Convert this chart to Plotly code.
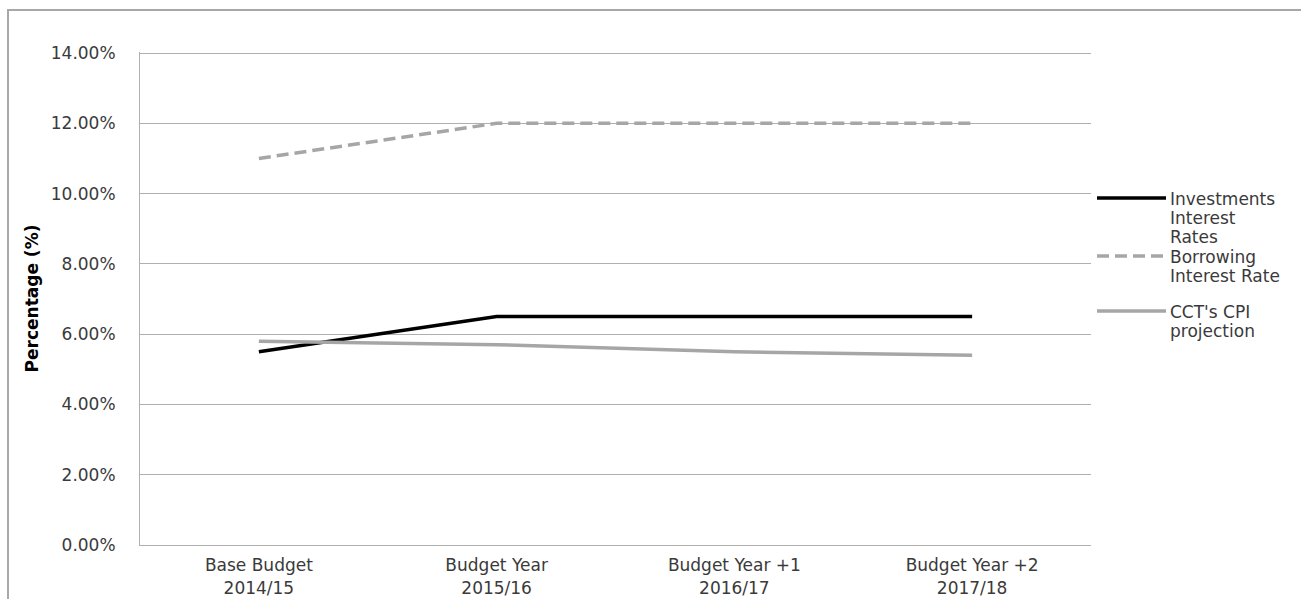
import plotly.graph_objects as go

# Budget-period categories along the x axis
categories = ["Base Budget<br>2014/15", "Budget Year<br>2015/16",
              "Budget Year +1<br>2016/17", "Budget Year +2<br>2017/18"]

# Rates in percent
investments = [5.5, 6.5, 6.5, 6.5]
borrowing = [11.0, 12.0, 12.0, 12.0]
cpi = [5.8, 5.7, 5.5, 5.4]

series_names = ["Investments<br>Interest<br>Rates", "Borrowing<br>Interest Rate",
                "CCT's CPI<br>projection"]

y_ticks = [0, 2, 4, 6, 8, 10, 12, 14]
y_tick_labels = ["0.00%", "2.00%", "4.00%", "6.00%", "8.00%", "10.00%", "12.00%", "14.00%"]

GREY = "#a6a6a6"
TEXT = "#3a3a3a"
FONT = "DejaVu Sans, Liberation Sans, Arial, sans-serif"

line_styles = [
    dict(color="#000000", width=3.5),
    dict(color=GREY, width=3.5, dash="12px,6px"),
    dict(color=GREY, width=3.5),
]

fig = go.Figure()
for name, values, style in zip(series_names, [investments, borrowing, cpi], line_styles):
    fig.add_trace(go.Scatter(x=categories, y=values, mode="lines",
                             name=name.replace("<br>", " "), line=style,
                             showlegend=False))

W, H = 1301, 599
L, R, T, B = 140, 210, 52, 54
pw, ph = W - L - R, H - T - B


def px_x(p):
    return (p - L) / pw


def px_y(p):
    return (H - B - p) / ph


# Outer frame
shapes = [
    dict(type="rect", xref="paper", yref="paper",
         x0=px_x(8), x1=px_x(1320), y0=px_y(620), y1=px_y(10),
         line=dict(color="#a8a8a8", width=2), fillcolor="rgba(0,0,0,0)",
         layer="below"),
]

# Legend: sample line on the right of the plot, wrapped label beside it
annotations = []
legend_rows = [198, 256, 311]
row_pitch = 19
for name, style, y0 in zip(series_names, line_styles, legend_rows):
    shapes.append(dict(type="line", xref="paper", yref="paper",
                       x0=px_x(1097), x1=px_x(1166), y0=px_y(y0), y1=px_y(y0),
                       line=style))
    for k, part in enumerate(name.split("<br>")):
        annotations.append(dict(
            xref="paper", yref="paper", x=px_x(1168), y=px_y(y0 + 1 + k * row_pitch),
            xanchor="left", yanchor="middle", showarrow=False, text=part,
            font=dict(family=FONT, size=17, color=TEXT),
        ))

fig.update_layout(
    width=W, height=H,
    margin=dict(l=L, r=R, t=T, b=B, pad=0),
    paper_bgcolor="white", plot_bgcolor="white",
    font=dict(family=FONT, color=TEXT, size=17),
    showlegend=False,
    xaxis=dict(
        type="category", range=[-0.5, 3.5], automargin=False,
        showgrid=False, showline=True, linecolor="#b0b0b0", linewidth=1,
        ticks="", ticklabelstandoff=5,
        tickfont=dict(family=FONT, size=17, color=TEXT),
        fixedrange=True,
    ),
    yaxis=dict(
        range=[0, 14.03], tickvals=y_ticks, ticktext=y_tick_labels, automargin=False,
        showgrid=True, gridcolor="#b0b0b0", gridwidth=1,
        showline=True, linecolor="#b0b0b0", linewidth=1,
        zeroline=False, ticks="", ticklabelstandoff=20,
        tickfont=dict(family=FONT, size=17, color=TEXT),
        title=dict(text="<b>Percentage (%)</b>",
                   font=dict(family=FONT, size=17, color="#000000"),
                   standoff=7),
        fixedrange=True,
    ),
    shapes=shapes,
    annotations=annotations,
)

fig.write_html("out.html")
